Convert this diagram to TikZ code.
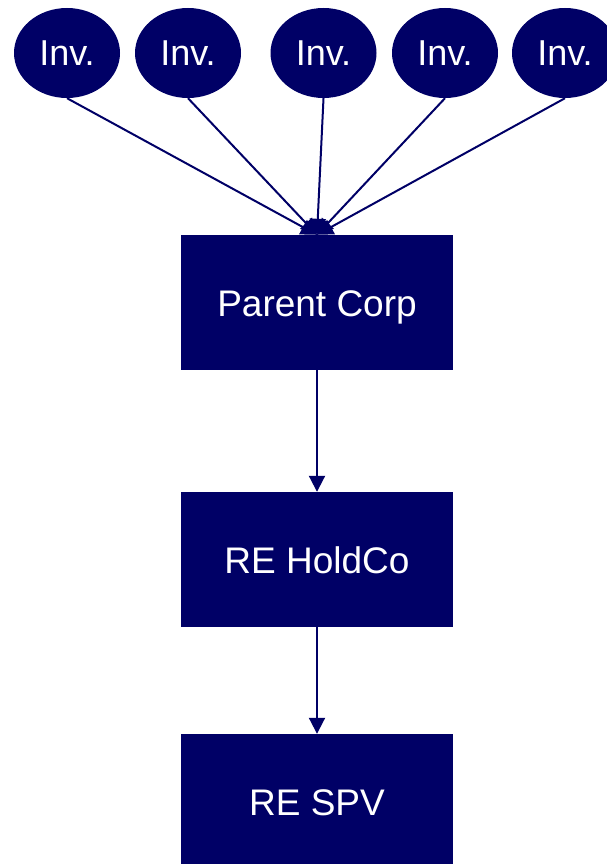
\documentclass[tikz,border=0pt]{standalone}
\usepackage{fontspec}
\setmainfont{Liberation Sans}
\definecolor{struct_navy}{RGB}{0, 0, 102}
\usepackage{tikz}
\usetikzlibrary{arrows.meta, positioning, shapes.geometric}

\begin{document}
\begin{tikzpicture}[x=1pt, y=-1pt,
    inv/.style={ellipse, fill=struct_navy, text=white, minimum width=106pt, minimum height=90pt, inner sep=0pt, font=\fontsize{36}{42}\selectfont},
    entity/.style={rectangle, fill=struct_navy, text=white, minimum width=272pt, minimum height=135pt, inner sep=0pt, text height=27pt, text depth=0pt, font=\fontsize{37}{44}\selectfont},
    link/.style={struct_navy, line width=2pt, -{Triangle[length=16pt, width=16pt]}}]
        \useasboundingbox (0,0) rectangle (607,864);

        % Investors
        \foreach \n/\x in {1/67, 2/188, 3/323.5, 4/445, 5/565}
          { \node[inv] (inv\n) at (\x,53) {Inv.}; }

        % Entity chain
        \node[entity] (parent) at (317,302.5) {Parent Corp};
        \node[entity] (holdco) at (317,559.5) {RE HoldCo};
        \node[entity] (spv) at (317,801.5) {RE SPV};

        \foreach \n in {1,...,5}
          { \draw[link] (inv\n.south) -- (parent.north); }
        \draw[link] (parent) -- (holdco);
        \draw[link] (holdco) -- (spv);
      \end{tikzpicture}
\end{document}
